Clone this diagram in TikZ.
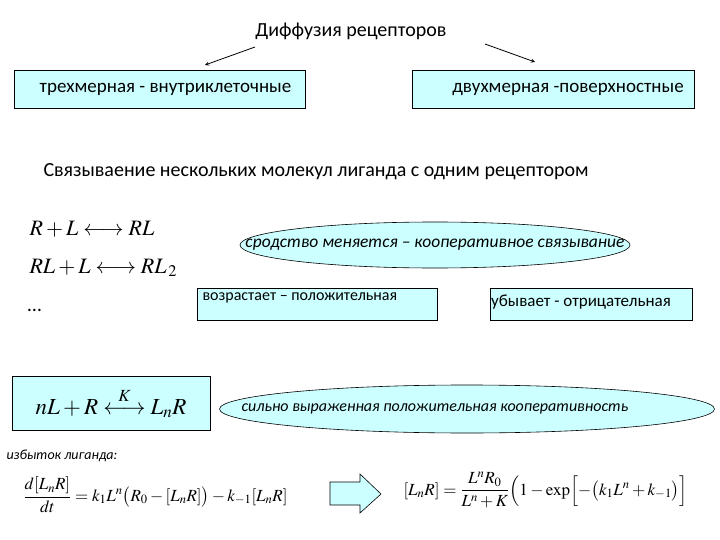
\documentclass[tikz,border=0pt]{standalone}
\usepackage{mathptmx}
\usepackage{fontspec}
\setmainfont{Carlito}
\usetikzlibrary{shapes.geometric,shapes.arrows}
\definecolor{lc}{RGB}{204,255,255}
\begin{document}
\begin{tikzpicture}[x=1pt,y=-1pt,
 box/.style={draw,fill=lc,line width=0.6pt},
 ell/.style={draw,fill=lc,ellipse,line width=0.6pt,inner sep=0pt},
 ar/.style={-stealth,line width=0.8pt}]
\useasboundingbox (0,0) rectangle (720,540);
\node[font=\fontsize{20}{22}\selectfont] (title) at (351,31) {Диффузия рецепторов};
\coordinate (a1s) at (255,47); \coordinate (a1e) at (205,65);
\coordinate (a2s) at (485,44); \coordinate (a2e) at (535,62);
\draw[ar] (a1s) -- (a1e);
\draw[ar] (a2s) -- (a2e);
\node[box,minimum width=291,minimum height=38,font=\fontsize{19}{21}\selectfont] (b1) at (159.5,89) {\hspace*{12pt}трехмерная - внутриклеточные};
\node[box,minimum width=282,minimum height=38,font=\fontsize{19}{21}\selectfont] (b2) at (553,89) {\hspace*{30pt}двухмерная -поверхностные};
\node[anchor=west,font=\fontsize{20}{22}\selectfont] (sv) at (40,172) {Связываение нескольких молекул лиганда с одним рецептором};
\node[anchor=west,font=\fontsize{22}{24}\selectfont] (e1) at (26,229) {$R+L\longleftrightarrow RL$};
\node[anchor=west,font=\fontsize{22}{24}\selectfont] (e2) at (26,268) {$RL+L\longleftrightarrow RL_{\,2}$};
\node[anchor=west,font=\fontsize{20}{24}\selectfont] (e3) at (24,310) {\dots};
\node[ell,minimum width=390,minimum height=46] (el1) at (435,245) {};
\node[font=\fontsize{17.5}{19}\selectfont\itshape] (el1t) at (435,245) {сродство меняется – кооперативное связывание};
\node[box,minimum width=240,minimum height=32,anchor=north west] (p1) at (197,288) {};
\node[anchor=north west,font=\fontsize{16}{18}\selectfont] (p1t) at (199,289) {возрастает – положительная};
\node[box,minimum width=202,minimum height=32,anchor=north west] (p2) at (490,288) {};
\node[font=\fontsize{17}{19}\selectfont] (p2t) at (581,302) {убывает - отрицательная};
\node[box,minimum width=198,minimum height=54,font=\fontsize{23}{26}\selectfont] (nl) at (111,403) {$nL+R\stackrel{K}{\longleftrightarrow}L_nR$};
\node[ell,minimum width=495,minimum height=48] (el2) at (467,409) {};
\node[anchor=west,font=\fontsize{16}{18}\selectfont\itshape] (el2t) at (238,409) {сильно выраженная положительная кооперативность};
\node[anchor=west,font=\fontsize{14}{16}\selectfont\itshape] (iz) at (3,456) {избыток лиганда:};
\node[anchor=west,font=\fontsize{17}{19}\selectfont] (de) at (20,495) {$\displaystyle\frac{d[L_nR]}{dt}=k_1L^n\bigl(R_0-[L_nR]\bigr)-k_{-1}[L_nR]$};
\draw[fill=lc,line width=0.6pt] (330,482) -- (360,482) -- (360,474) -- (381,494) -- (360,513) -- (360,505) -- (330,505) -- cycle;
\node[anchor=west,font=\fontsize{17}{19}\selectfont] (so) at (400,490) {$\displaystyle[L_nR]=\frac{L^nR_0}{L^n+K}\Bigl(1-\exp\Bigl[-\bigl(k_1L^n+k_{-1}\bigr)\Bigr]$};
\end{tikzpicture}
\end{document}
